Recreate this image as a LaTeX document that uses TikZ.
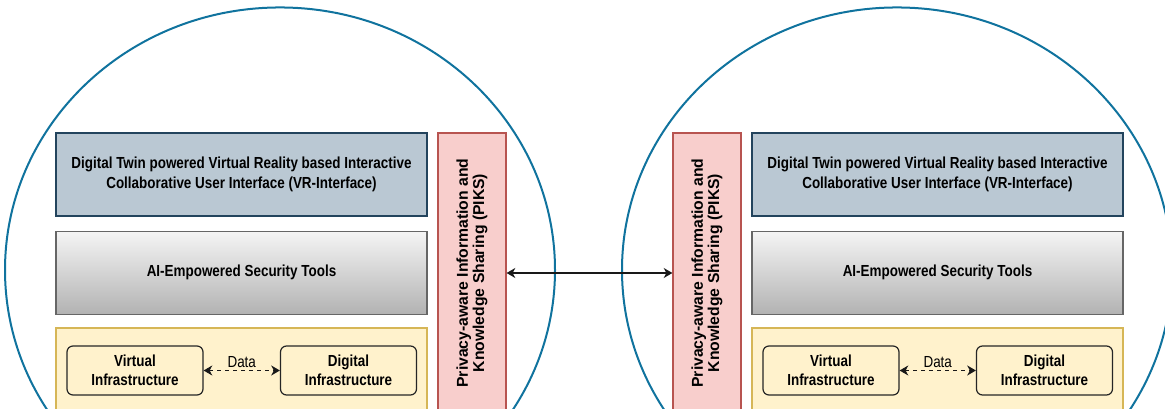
\documentclass[tikz,border=0pt]{standalone}
\usepackage{fontspec}
\setmainfont{Liberation Sans}
\newfontfamily\narrowsans{Liberation Sans}[FakeStretch=0.84]
\usetikzlibrary{arrows.meta}

\definecolor{ringblue}{HTML}{10739E}
\definecolor{vrfill}{HTML}{BAC8D3}
\definecolor{vrline}{HTML}{23445D}
\definecolor{toolline}{HTML}{666666}
\definecolor{infrafill}{HTML}{FFF2CC}
\definecolor{infraline}{HTML}{D6B656}
\definecolor{piksfill}{HTML}{F8CECC}
\definecolor{piksline}{HTML}{B85450}

\begin{document}
\begin{tikzpicture}[x=0.75pt,y=-0.75pt,
    layer/.style={rectangle,draw,line width=0.9pt,inner sep=0pt,minimum width=278.25pt,align=center,
                  font=\narrowsans\bfseries\fontsize{12}{14.5}\selectfont},
    vrbox/.style={layer,fill=vrfill,draw=vrline,minimum height=62.25pt},
    toolbox/.style={layer,draw=toolline,top color=gray!8,bottom color=gray!60,minimum height=62.25pt},
    infrabox/.style={layer,fill=infrafill,draw=infraline,minimum height=69pt},
    unitbox/.style={layer,fill=infrafill,draw=black!85,rounded corners=4.5pt,minimum width=102pt,minimum height=36.75pt},
    piksbox/.style={rectangle,draw=piksline,fill=piksfill,line width=0.9pt,minimum width=51pt,minimum height=210pt},
    piksText/.style={rotate=90,align=center,font=\bfseries\fontsize{11.8}{12.2}\selectfont},
    ring/.style={draw=ringblue,line width=1.5pt},
    link/.style={{Stealth[length=6.5pt,width=7.5pt,inset=2pt]}-{Stealth[length=6.5pt,width=7.5pt,inset=2pt]},line width=1pt,draw=black!90}]

    \useasboundingbox (0,0) rectangle (1165,409);
    \clip (0,0) rectangle (1165,409);

    % one ring per side: L has PIKS on the right, R on the left
    \foreach \side/\sx/\px/\cx in {L/241.5/472/280, R/937.5/707/897}
      {\draw[ring] (\cx,270) ellipse [x radius=206.25pt, y radius=196.9pt];

       \node[vrbox]    (vr\side)    at (\sx,174.5)  {Digital Twin powered Virtual Reality based Interactive\\Collaborative User Interface (VR-Interface)};
       \node[toolbox]  (tools\side) at (\sx,272.75) {AI-Empowered Security Tools};
       \node[infrabox] (infra\side) at (\sx,374)    {};

       \node[unitbox] (virt\side) at ({\sx-106.5},370.5) {Virtual\\Infrastructure};
       \node[unitbox] (dig\side)  at ({\sx+107},370.5)   {Digital\\Infrastructure};
       \draw[link,dashed,line width=0.8pt] (virt\side) -- node[above,inner sep=1.5pt,font=\narrowsans\fontsize{12}{14.5}\selectfont] {Data} (dig\side);

       \node[piksbox] (piks\side) at (\px,273) {};
       \node[piksText] at (piks\side) {Privacy-aware Information and\\Knowledge Sharing (PIKS)};}

    \draw[link] (piksL) -- (piksR);

\end{tikzpicture}
\end{document}
